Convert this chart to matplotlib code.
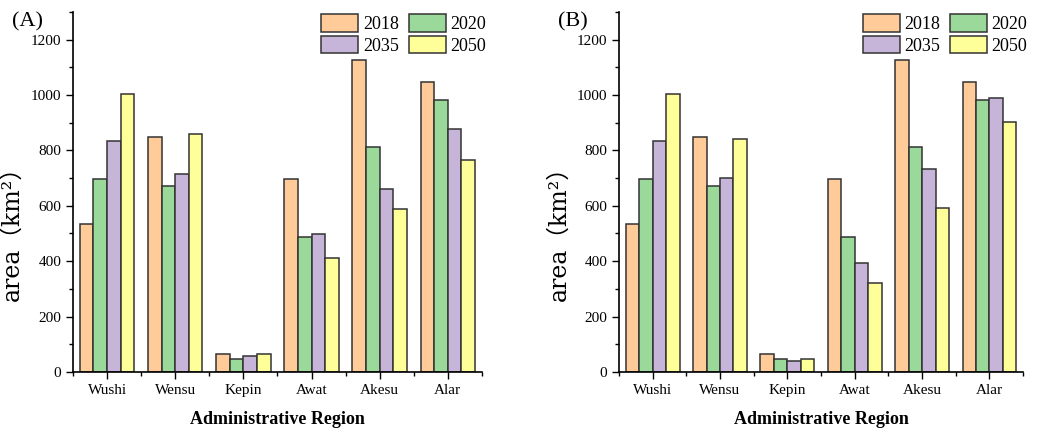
import matplotlib
matplotlib.use("Agg")
import matplotlib.pyplot as plt
from matplotlib.ticker import MultipleLocator
import numpy as np

plt.rcParams['font.family'] = ['Liberation Serif', 'Noto Sans CJK SC', 'DejaVu Sans']

regions = ["Wushi", "Wensu", "Kepin", "Awat", "Akesu", "Alar"]
years = ["2018", "2020", "2035", "2050"]
colors = ["#FFCC99", "#9BD99B", "#C6B4D9", "#FFFF99"]

# panel A
area_a = {
    "2018": [534, 848, 66, 697, 1127, 1048],
    "2020": [696, 672, 47, 488, 812, 982],
    "2035": [835, 716, 56, 497, 661, 878],
    "2050": [1002, 860, 66, 410, 589, 767],
}
# panel B
area_b = {
    "2018": [534, 848, 66, 697, 1127, 1048],
    "2020": [696, 672, 47, 488, 812, 982],
    "2035": [835, 700, 38, 395, 734, 991],
    "2050": [1002, 841, 47, 320, 592, 901],
}


def draw_panel(ax, data, tag):
    x = np.arange(len(regions))
    w = 0.2
    bars = []
    for i, yr in enumerate(years):
        b = ax.bar(x + (i - 1.5) * w, data[yr], width=w, color=colors[i],
                   edgecolor="#333333", linewidth=1.1, label=yr)
        bars.append(b)
    ax.set_xlim(-0.5, len(regions) - 0.5)
    ax.set_ylim(0, 1300)
    ax.set_xticks(x)
    ax.set_xticklabels(regions, fontsize=11)
    ax.set_xticks(np.arange(-0.5, len(regions)), minor=True)
    ax.yaxis.set_major_locator(MultipleLocator(200))
    ax.yaxis.set_minor_locator(MultipleLocator(100))
    ax.tick_params(axis="both", which="major", direction="out", length=5, width=1, labelsize=11)
    ax.tick_params(axis="both", which="minor", direction="out", length=3, width=1)
    for s in ["top", "right"]:
        ax.spines[s].set_visible(False)
    for s in ["left", "bottom"]:
        ax.spines[s].set_linewidth(1.2)
    ax.set_xlabel("Administrative Region", fontsize=13, fontweight="bold", labelpad=10)
    ax.set_ylabel("area（km²）", fontsize=17,
                  family=["DejaVu Serif", "Noto Sans CJK SC"])
    ax.yaxis.set_label_coords(-0.12, 0.40)
    # row-wise order: 2018 2020 / 2035 2050
    order = [0, 2, 1, 3]
    ax.legend([bars[k] for k in order], [years[k] for k in order],
              ncol=2, loc="upper right", bbox_to_anchor=(1.01, 0.995), frameon=False,
              fontsize=13, handlelength=2.05, handleheight=1.15, columnspacing=0.55,
              handletextpad=0.25, labelspacing=0.15, borderpad=0.0, borderaxespad=0.0)
    ax.text(-0.15, 1.0, tag, transform=ax.transAxes, fontsize=16, va="top", ha="left")


fig = plt.figure(figsize=(10.47, 4.28), dpi=100)
ax1 = fig.add_axes([0.0697, 0.131, 0.3906, 0.841])
ax2 = fig.add_axes([0.5912, 0.131, 0.386, 0.841])
draw_panel(ax1, area_a, "(A)")
draw_panel(ax2, area_b, "(B)")

fig.savefig("out.png", dpi=100)
